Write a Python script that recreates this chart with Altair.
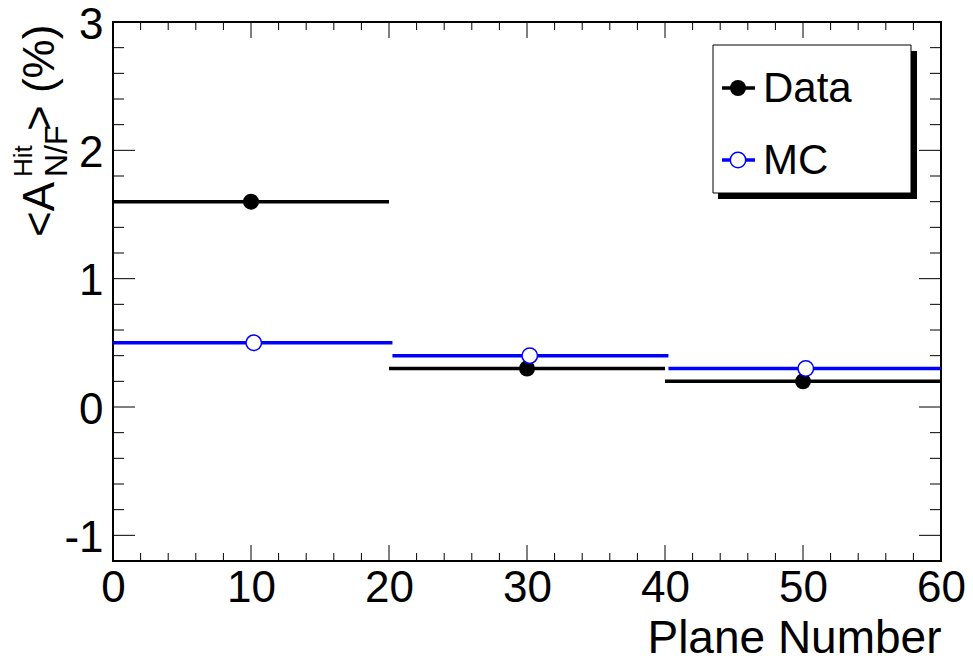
import altair as alt
import pandas as pd

# ---- data ----
bin_lo = [0, 20, 40]
bin_hi = [20, 40, 60]
bin_center = [10, 30, 50]
data_vals = [1.6, 0.3, 0.2]

mc_lo = [0, 20.25, 40.25]
mc_hi = [20.25, 40.25, 60]
mc_center = [10.2, 30.2, 50.2]
mc_vals = [0.5, 0.4, 0.3]

x_major = [0, 10, 20, 30, 40, 50, 60]
x_minor = [2, 4, 6, 8, 12, 14, 16, 18, 22, 24, 26, 28, 32, 34, 36, 38,
           42, 44, 46, 48, 52, 54, 56, 58]
y_major = [-1, 0, 1, 2, 3]
y_minor = [-1.2, -0.8, -0.6, -0.4, -0.2, 0.2, 0.4, 0.6, 0.8, 1.2, 1.4, 1.6,
           1.8, 2.2, 2.4, 2.6, 2.8]

legend_labels = ["Data", "MC"]

W, H = 828, 539
FONT = "Liberation Sans"
BLUE = "#0000ff"

xs = alt.Scale(domain=[0, 60], nice=False, zero=False)
ys = alt.Scale(domain=[-1.2, 3], nice=False, zero=False)

data_df = pd.DataFrame({"lo": bin_lo, "hi": bin_hi, "c": bin_center, "v": data_vals})
mc_df = pd.DataFrame({"lo": mc_lo, "hi": mc_hi, "c": mc_center, "v": mc_vals})
one = pd.DataFrame({"a": [0]})

x_axis = alt.Axis(values=x_major, labelExpr="'' + datum.value", labelFont=FONT,
                  labelFontSize=44, labelColor="black", labelPadding=5,
                  labelFlush=False, labelOverlap=False,
                  ticks=False, domain=False, grid=False,
                  title="Plane Number", titleFont=FONT, titleFontSize=46,
                  titleFontWeight="normal", titleColor="black",
                  titleAlign="right", titleAnchor="end", titleBaseline="alphabetic",
                  titleX=W, titleY=91)
y_axis = alt.Axis(values=y_major, labelExpr="'' + datum.value", labelFont=FONT,
                  labelFontSize=44, labelColor="black", labelPadding=10,
                  labelFlush=False, labelOverlap=False, labelOffset=3,
                  ticks=False, domain=False, grid=False, title="")

# axis-carrying layer (draws the Data bars)
data_bars = alt.Chart(data_df).mark_rule(color="black", strokeWidth=3.5).encode(
    x=alt.X("lo:Q", scale=xs, axis=x_axis), x2="hi:Q",
    y=alt.Y("v:Q", scale=ys, axis=y_axis))
data_pts = alt.Chart(data_df).mark_point(filled=True, color="black", size=256, opacity=1, shape="circle").encode(
    x=alt.X("c:Q"), y=alt.Y("v:Q"))
mc_bars = alt.Chart(mc_df).mark_rule(color=BLUE, strokeWidth=3.5).encode(
    x=alt.X("lo:Q"), x2="hi:Q", y=alt.Y("v:Q"))
mc_pts = alt.Chart(mc_df).mark_point(filled=False, fill="white", fillOpacity=1, color=BLUE,
                                     strokeWidth=1.5, size=240, opacity=1, shape="circle").encode(
    x=alt.X("c:Q"), y=alt.Y("v:Q"))

# inward ticks on all four sides
def yticks(vals, x0, x1):
    return alt.Chart(pd.DataFrame({"v": vals})).mark_rule(color="black", strokeWidth=1).encode(
        y=alt.Y("v:Q"), x=alt.value(x0), x2=alt.value(x1))

def xticks(vals, y0, y1):
    return alt.Chart(pd.DataFrame({"c": vals})).mark_rule(color="black", strokeWidth=1).encode(
        x=alt.X("c:Q"), y=alt.value(y0), y2=alt.value(y1))

tick_layers = [
    yticks(y_major, 0, 22), yticks(y_minor, 0, 11),
    yticks(y_major, W, W - 22), yticks(y_minor, W, W - 11),
    xticks(x_major, H, H - 16), xticks(x_minor, H, H - 8),
    xticks(x_major, 0, 16), xticks(x_minor, 0, 8),
]

# y-axis title built from pieces: <A^{Hit}_{N/F}> (%)
def ytxt(text, x, y, size):
    return alt.Chart(one).mark_text(text=text, angle=270, align="left", baseline="alphabetic",
                                    font=FONT, fontSize=size, color="black").encode(
        x=alt.value(x), y=alt.value(y))

title_layers = [
    ytxt("<A", -59, 215, 44),
    ytxt("Hit", -81, 155, 26),
    ytxt("N/F", -46, 155, 32),
    ytxt("> (%)", -59, 109, 44),
]

# legend box with shadow
shadow = alt.Chart(one).mark_rect(color="black").encode(
    x=alt.value(605), x2=alt.value(804), y=alt.value(29), y2=alt.value(177))
box = alt.Chart(one).mark_rect(fill="white", stroke="black", strokeWidth=1).encode(
    x=alt.value(600), x2=alt.value(798), y=alt.value(23), y2=alt.value(171))

def legend_entry(label, yv, color, filled, size):
    line = alt.Chart(one).mark_rule(color=color, strokeWidth=3.5).encode(
        x=alt.value(609), x2=alt.value(642), y=alt.value(yv))
    if filled:
        pt = alt.Chart(one).mark_point(filled=True, color=color, size=size, opacity=1, shape="circle").encode(
            x=alt.value(625), y=alt.value(yv))
    else:
        pt = alt.Chart(one).mark_point(filled=False, fill="white", fillOpacity=1, color=color,
                                       strokeWidth=1.5, size=size, opacity=1, shape="circle").encode(
            x=alt.value(625), y=alt.value(yv))
    txt = alt.Chart(one).mark_text(text=label, align="left", baseline="middle", font=FONT,
                                   fontSize=42, color="black").encode(
        x=alt.value(650), y=alt.value(yv + 1))
    return [line, pt, txt]

legend_layers = [shadow, box] + legend_entry(legend_labels[0], 66, "black", True, 256) \
    + legend_entry(legend_labels[1], 138, BLUE, False, 240)

chart = alt.layer(
    data_bars, data_pts, mc_bars, mc_pts, *tick_layers, *title_layers, *legend_layers
).properties(
    width=W, height=H,
    autosize=alt.AutoSizeParams(type="none"),
    padding={"left": 105, "top": 14, "right": 24, "bottom": 100},
    background="white",
).configure_view(stroke="black", strokeWidth=2)

chart.save("out.html", embed_options={"renderer": "svg", "actions": False})
